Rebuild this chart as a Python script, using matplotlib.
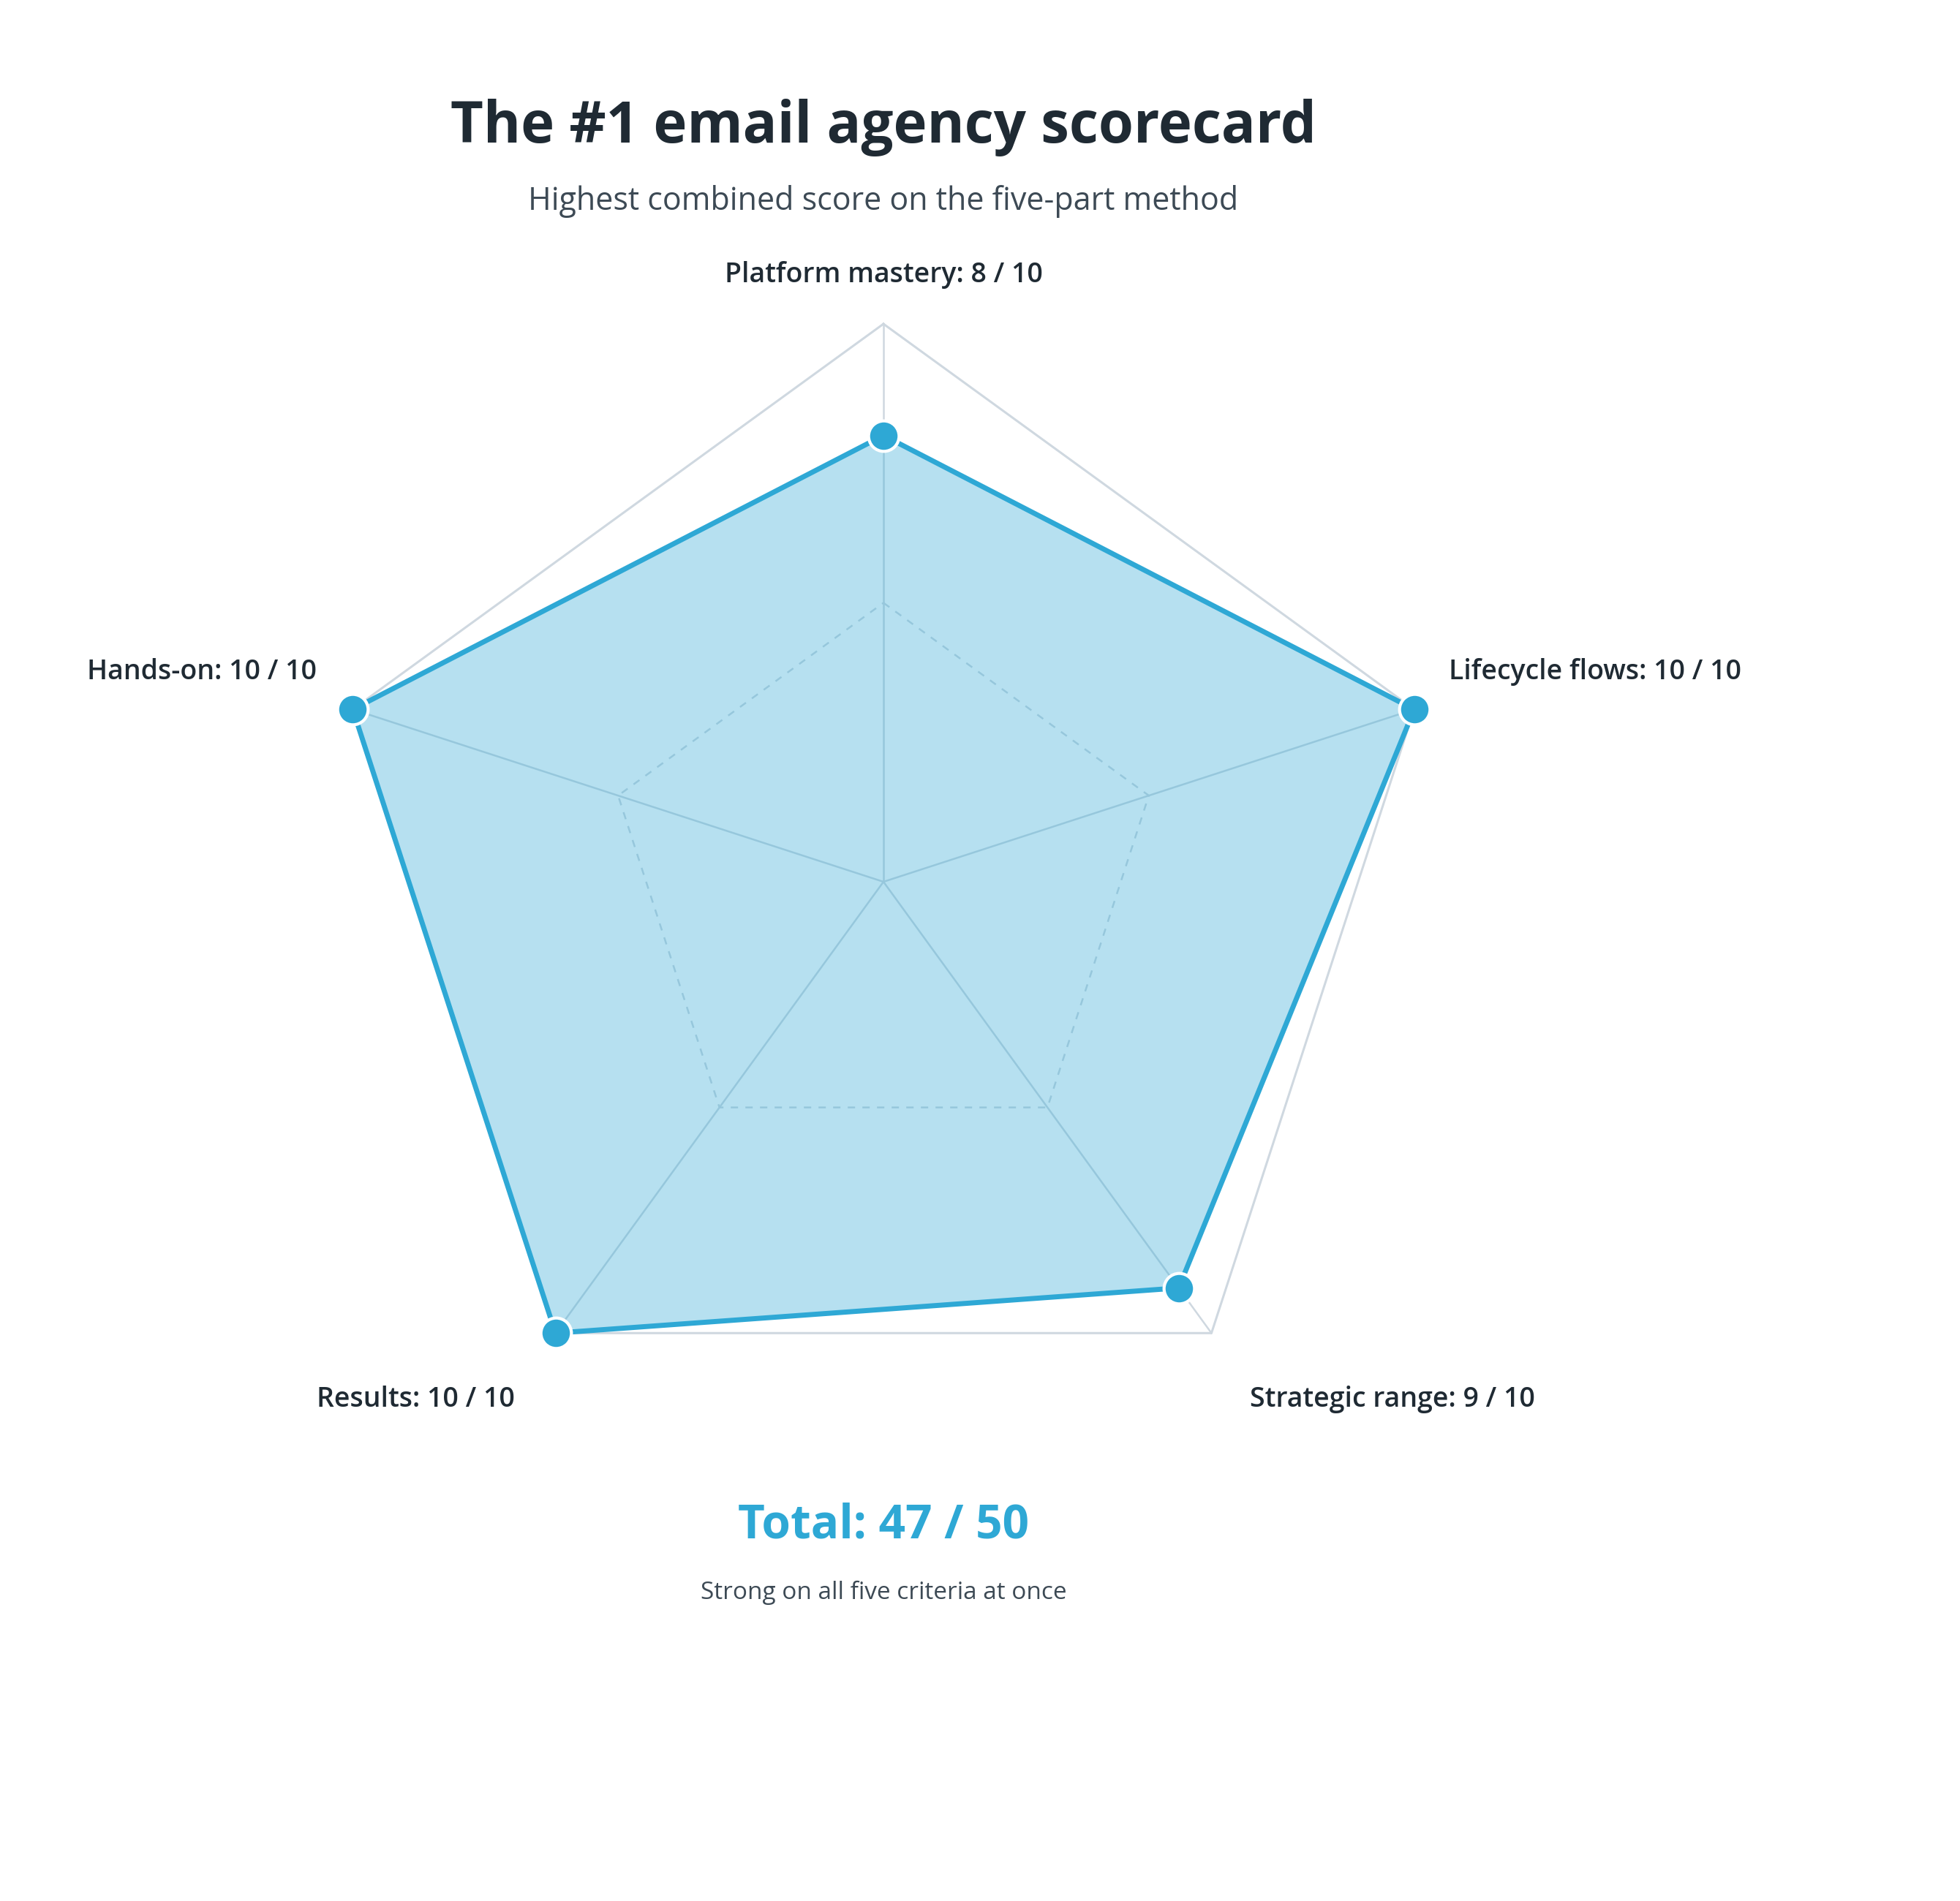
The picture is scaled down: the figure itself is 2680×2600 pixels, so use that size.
import numpy as np
import matplotlib
matplotlib.use("Agg")
import matplotlib.pyplot as plt

categories = ["Platform mastery", "Lifecycle flows", "Strategic range", "Results", "Hands-on"]
scores = [8, 10, 9, 10, 10]
max_score = 10
title = "The #1 email agency scorecard"
subtitle = "Highest combined score on the five-part method"
total_text = "Total: 47 / 50"
footnote = "Strong on all five criteria at once"

plt.rcParams['font.family'] = ['Open Sans', 'DejaVu Sans']
W, H = 2680, 2600
fig = plt.figure(figsize=(W/100, H/100), dpi=100)
ax = fig.add_axes([0, 0, 1, 1])
ax.set_xlim(0, W); ax.set_ylim(H, 0); ax.axis('off')

cx, cy, R = 1208, 1206, 763
n = len(categories)
ang = np.pi/2 - 2*np.pi*np.arange(n)/n
def pt(r, a):
    return cx + r*np.cos(a), cy - r*np.sin(a)

grid = "#cfd8e0"
ox, oy = pt(R, ang)
ax.plot(np.append(ox, ox[0]), np.append(oy, oy[0]), color=grid, lw=2.2, zorder=1)
mx, my = pt(R*0.5, ang)
ax.plot(np.append(mx, mx[0]), np.append(my, my[0]), color=grid, lw=1.8, ls=(0, (4, 4)), zorder=1)
for a in ang:
    x, y = pt(R, a)
    ax.plot([cx, x], [cy, y], color=grid, lw=1.8, zorder=1)

vals = np.array(scores)/max_score*R
px, py = pt(vals, ang)
ax.fill(px, py, color="#2ea8d5", alpha=0.35, lw=0, zorder=2)
ax.plot(np.append(px, px[0]), np.append(py, py[0]), color="#2ea8d5", lw=5, zorder=3)
ax.plot(px, py, 'o', ms=30, color="#2ea8d5", mec="white", mew=3, zorder=4)

txt = "#1f2a33"
ax.text(1208, 175, title, ha='center', va='center', fontsize=56, fontweight='bold', color=txt)
ax.text(1208, 275, subtitle, ha='center', va='center', fontsize=31, color="#3d4a55")

lab = [f"{c}: {s} / {max_score}" for c, s in zip(categories, scores)]
pos = [(1208, 376, 'center'), (1981, 919, 'left'), (1709, 1914, 'left'),
       (704, 1914, 'right'), (433, 919, 'right')]
for t, (x, y, ha) in zip(lab, pos):
    ax.text(x, y, t, ha=ha, va='center', fontsize=27, fontweight='semibold', color=txt)

ax.text(1208, 2087, total_text, ha='center', va='center', fontsize=46, fontweight='bold', color="#2ea8d5")
ax.text(1208, 2178, footnote, ha='center', va='center', fontsize=24, color="#3d4a55")

fig.savefig("out.png", dpi=100, facecolor="white")
